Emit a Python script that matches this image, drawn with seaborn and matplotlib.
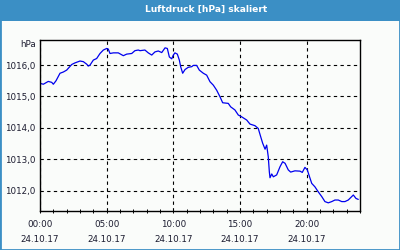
import matplotlib
matplotlib.use("Agg")
import matplotlib.pyplot as plt
import matplotlib.patches as mpatches
import seaborn as sns
import pandas as pd
import numpy as np

# hours after 24.10.17 00:00
hours = [0.0, 0.25, 0.62, 0.88, 1.0, 1.2, 1.5, 1.75, 2.0, 2.38, 2.62, 3.0, 3.25, 3.5,
         3.62, 3.75, 4.0, 4.25, 4.5, 4.75, 5.0, 5.12, 5.25, 5.5, 5.87, 6.25, 6.5, 6.88,
         7.12, 7.37, 7.5, 7.87, 8.12, 8.38, 8.62, 8.87, 9.13, 9.38, 9.55, 9.7, 9.88,
         10.0, 10.12, 10.3, 10.45, 10.55, 10.7, 10.88, 11.12, 11.38, 11.5, 11.75, 11.95,
         12.25, 12.5, 12.75, 13.0, 13.25, 13.5, 13.7, 14.12, 14.3, 14.62, 14.87, 15.13,
         15.5, 15.75, 16.12, 16.37, 16.55, 16.7, 16.88, 17.0, 17.12, 17.2, 17.25, 17.38,
         17.5, 17.75, 18.0, 18.2, 18.38, 18.62, 18.8, 19.12, 19.5, 19.67, 19.87, 20.05,
         20.2, 20.38, 20.62, 20.87, 21.13, 21.37, 21.62, 21.88, 22.12, 22.37, 22.63,
         22.87, 23.12, 23.5, 23.7, 23.87]
pressure = [1015.42, 1015.39, 1015.48, 1015.45, 1015.39, 1015.50, 1015.74, 1015.78,
            1015.84, 1016.02, 1016.07, 1016.13, 1016.11, 1016.03, 1015.97, 1016.00,
            1016.16, 1016.21, 1016.37, 1016.48, 1016.53, 1016.51, 1016.37, 1016.39,
            1016.39, 1016.30, 1016.35, 1016.37, 1016.46, 1016.48, 1016.46, 1016.48,
            1016.39, 1016.32, 1016.42, 1016.45, 1016.40, 1016.55, 1016.53, 1016.26,
            1016.20, 1016.32, 1016.39, 1016.35, 1016.16, 1015.95, 1015.74, 1015.86,
            1015.93, 1015.95, 1015.99, 1015.99, 1015.84, 1015.74, 1015.68, 1015.47,
            1015.36, 1015.20, 1014.99, 1014.80, 1014.78, 1014.67, 1014.57, 1014.41,
            1014.35, 1014.25, 1014.12, 1014.07, 1013.98, 1013.72, 1013.51, 1013.32,
            1013.45, 1013.08, 1012.60, 1012.41, 1012.53, 1012.44, 1012.50, 1012.76,
            1012.92, 1012.87, 1012.66, 1012.59, 1012.63, 1012.62, 1012.58, 1012.74,
            1012.66, 1012.46, 1012.23, 1012.12, 1011.96, 1011.81, 1011.65, 1011.61,
            1011.65, 1011.70, 1011.70, 1011.65, 1011.65, 1011.70, 1011.86, 1011.75,
            1011.72]

x_ticks = [0, 5, 10, 15, 20]
x_tick_labels = ["00:00\n24.10.17", "05:00\n24.10.17", "10:00\n24.10.17",
                 "15:00\n24.10.17", "20:00\n24.10.17"]
y_ticks = [1012, 1013, 1014, 1015, 1016]
y_tick_labels = ["1012,0", "1013,0", "1014,0", "1015,0", "1016,0"]
title = "Luftdruck [hPa] skaliert"
unit = "hPa"

sns.set_style("white")
plt.rcParams['font.family'] = ['DejaVu Sans']

BLUE = "#3b8fc5"
BG = "#fafcfa"
TXT = "#1c1c30"

fig = plt.figure(figsize=(4, 2.5), dpi=100)
fig.patch.set_facecolor(BG)

# frame and title bar
fig.add_artist(mpatches.Rectangle((0, 0), 1, 1, transform=fig.transFigure,
                                  facecolor="none", edgecolor=BLUE, linewidth=2.0))
fig.add_artist(mpatches.Rectangle((0, 1 - 21 / 250), 1, 21 / 250, transform=fig.transFigure,
                                  facecolor=BLUE, edgecolor="none"))
fig.text(0.515, 1 - 9.5 / 250, title, color="white", fontsize=6.6, fontweight="bold",
         ha="center", va="center")

ax = fig.add_axes([40 / 400, 1 - 211 / 250, 320 / 400, 171 / 250])
ax.set_facecolor(BG)

df = pd.DataFrame({"h": hours, "p": pressure})
sns.lineplot(data=df, x="h", y="p", ax=ax, color="#0000ee", linewidth=0.9)

ax.set_xlim(0, 24)
ax.set_ylim(1011.35, 1016.8)
ax.set_xticks(x_ticks)
ax.set_xticklabels(x_tick_labels, fontsize=6.3, color=TXT, linespacing=1.85)
ax.set_xticks(np.arange(0, 25, 1), minor=True)
ax.set_yticks(y_ticks)
ax.set_yticklabels(y_tick_labels, fontsize=6.3, color=TXT)
ax.tick_params(axis="y", length=0, pad=3)
ax.tick_params(axis="x", which="both", direction="inout", length=3, width=0.7,
               color="black", pad=5, bottom=True)
ax.set_xlabel("")
ax.set_ylabel("")
ax.grid(True, color="black", linestyle=(0, (3, 3)), linewidth=0.8)
for s in ax.spines.values():
    s.set_visible(True)
    s.set_color("black")
    s.set_linewidth(1.0)

fig.text(36 / 400, 1 - 45 / 250, unit, fontsize=6.3, color=TXT, ha="right", va="center")

fig.savefig("out.png", dpi=100, facecolor=BG)
